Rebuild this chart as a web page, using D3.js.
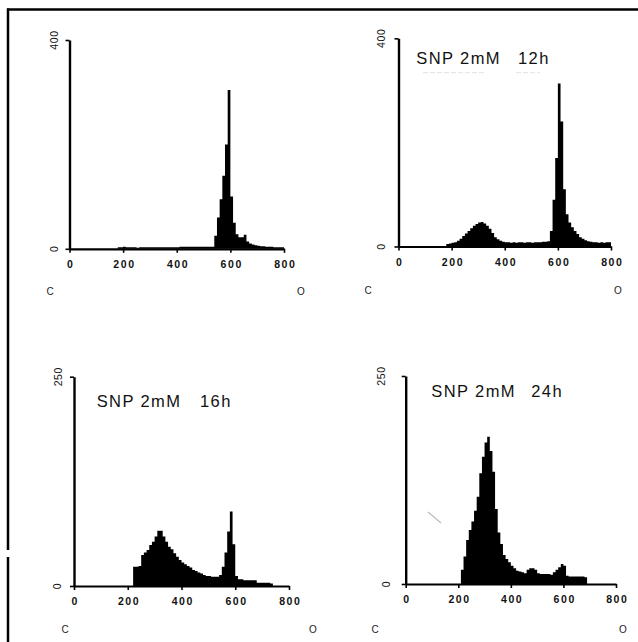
<!DOCTYPE html>
<html><head><meta charset="utf-8">
<script src="https://cdn.jsdelivr.net/npm/d3@7"></script>
<style>html,body{margin:0;padding:0;background:#fff}</style>
</head><body><svg id="c" width="638" height="642"></svg>
<script>
// ---- data ----
const binWidth = 10;            // DNA-content channel width of each histogram bin
const xTicks = [0, 200, 400, 600, 800];
const yMaxes = [400, 400, 250, 250];
const treatment = "SNP 2mM";
const times = ["", "12h", "16h", "24h"];
const cornerLeft = "C";
const cornerRight = "O";

const control = [0,0,0,0,0,0,0,0,0,0,0,0,0,0,0,0,0,0,
  3,3,4,3,3,3,3,2,3,3,3,3,3,3,3,3,3,3,3,3,3,3,3,
  4,4,4,4,4,4,4,4,4,4,4,4,4,
  25,60,95,140,200,304,100,50,28,22,22,27,14,10,8,7,
  6,5,5,4,4,4,3,3,3,3];
const snp12h = [0,0,0,0,0,0,0,0,0,0,0,0,0,0,0,0,0,0,
  5,6,7,8,11,15,20,25,30,35,40,43,46,47,44,40,34,26,18,14,11,9,
  8,8,7,8,7,8,8,7,8,8,7,8,8,8,9,9,10,
  30,90,170,313,240,110,62,46,37,30,24,18,15,12,10,
  9,8,8,7,8,7,8,8];
const snp16h = [0,0,0,0,0,0,0,0,0,0,0,0,0,0,0,0,0,0,0,0,0,0,
  23,23,24,37,40,43,49,53,59,66,66,59,53,47,44,39,35,31,28,26,24,22,19,18,16,15,13,12,12,11,11,11,13,23,40,65,89,50,12,
  8,8,7,7,7,7,7,
  4,4,4,4,4,3,
  0,0,0,0,0,0];
const snp24h = [0,0,0,0,0,0,0,0,0,0,0,0,0,0,0,0,0,0,0,0,0,
  17,33,53,65,75,88,105,133,153,170,177,160,135,90,62,48,35,30,26,22,19,16,15,14,13,17,19,19,17,13,12,12,12,12,11,14,17,20,24,22,10,9,9,9,9,9,9,8,
  0,0,0,0,0,0,0,0,0,0,0];

const series = [control, snp12h, snp16h, snp24h];

// ---- layout ----
const layout = [
  {ax: 69.5, yb: 248.8, yt: 40, xe: 284, yl0: 54.5, ylm: 54, cx: 50, cy: 295, ox: 301, tx: 0, ty: 0, tt: 0},
  {ax: 398.5, yb: 246.5, yt: 38.3, xe: 611, yl0: 381.5, ylm: 381, cx: 368, cy: 294, ox: 618, tx: 416.3, ty: 64.3, tt: 518},
  {ax: 74, yb: 586, yt: 376.7, xe: 289, yl0: 57.5, ylm: 58.3, cx: 65, cy: 633, ox: 313, tx: 96.7, ty: 407.3, tt: 200},
  {ax: 405.7, yb: 584, yt: 376, xe: 616, yl0: 386.3, ylm: 381, cx: 375, cy: 633, ox: 623, tx: 431.3, ty: 396.7, tt: 531.3}
];

const svg = d3.select("#c");
const FONT = "'Liberation Sans', Arial, Helvetica, sans-serif";

// outer frame (scan border)
svg.append("line").attr("x1", 7).attr("x2", 638).attr("y1", 9.5).attr("y2", 9.5)
  .style("stroke", "#000").style("stroke-width", 2.4);
svg.append("line").attr("x1", 8).attr("x2", 8).attr("y1", 8.5).attr("y2", 550)
  .style("stroke", "#000").style("stroke-width", 2.5);
svg.append("line").attr("x1", 8).attr("x2", 8).attr("y1", 557).attr("y2", 642)
  .style("stroke", "#000").style("stroke-width", 2.5);

series.forEach((counts, i) => {
  const L = layout[i];
  const x = d3.scaleLinear().domain([0, 800]).range([L.ax, L.xe]);
  const y = d3.scaleLinear().domain([0, yMaxes[i]]).range([L.yb, L.yt]);
  const g = svg.append("g");

  const bins = counts.map((c, k) => ({x0: k * binWidth, c}));
  bins.push({x0: counts.length * binWidth, c: 0});
  const area = d3.area().curve(d3.curveStepAfter)
    .x(d => x(d.x0)).y0(y(0)).y1(d => y(d.c));
  g.append("path").datum(bins).attr("d", area).style("fill", "#000").style("stroke", "none");

  // x axis
  const xa = g.append("g").attr("transform", `translate(0,${L.yb})`)
    .call(d3.axisBottom(x).tickValues(xTicks).tickSize(4).tickSizeOuter(0).tickPadding(8));
  xa.select(".domain").style("stroke", "#000").style("stroke-width", 2.2);
  xa.selectAll(".tick line").style("stroke", "#000").style("stroke-width", 1.6);
  xa.selectAll(".tick text").style("font-family", FONT).style("font-size", "10.5px")
    .style("font-weight", "bold").style("letter-spacing", "1.6px").style("fill", "#111")
    .attr("dx", "0.8px");

  // y axis
  const ya = g.append("g").attr("transform", `translate(${L.ax},0)`)
    .call(d3.axisLeft(y).tickValues([0, yMaxes[i]]).tickSize(4).tickSizeOuter(0));
  ya.select(".domain").style("stroke", "#000").style("stroke-width", 2.4);
  ya.selectAll(".tick line").style("stroke", "#000").style("stroke-width", 1.6);
  ya.selectAll(".tick text").remove();

  [[0, L.yl0], [yMaxes[i], L.ylm]].forEach(([v, lx]) => {
    svg.append("text").text(String(v))
      .attr("transform", `translate(${lx + 3.5},${y(v)}) rotate(-90)`)
      .attr("text-anchor", "middle").style("font-family", FONT).style("font-size", "10.5px")
      .style("letter-spacing", "0.6px").style("fill", "#111");
  });

  // corner letters
  svg.append("text").text(cornerLeft).attr("x", L.cx).attr("y", L.cy)
    .attr("text-anchor", "middle").style("font-family", FONT).style("font-size", "10px").style("fill", "#222");
  svg.append("text").text(cornerRight).attr("x", L.ox).attr("y", L.cy)
    .attr("text-anchor", "middle").style("font-family", FONT).style("font-size", "10px").style("fill", "#222");

  // title
  if (times[i]) {
    svg.append("text").text(treatment).attr("x", L.tx).attr("y", L.ty)
      .style("font-family", FONT).style("font-size", "16.5px").style("letter-spacing", "1.4px").style("fill", "#111");
    svg.append("text").text(times[i]).attr("x", L.tt).attr("y", L.ty)
      .style("font-family", FONT).style("font-size", "16.5px").style("letter-spacing", "1.4px").style("fill", "#111");
  }
});

// faint scan artefacts
svg.append("line").attr("x1", 423).attr("x2", 485).attr("y1", 72.7).attr("y2", 72.7)
  .style("stroke", "#e2e2e2").style("stroke-width", 1).style("stroke-dasharray", "5 2");
svg.append("line").attr("x1", 516).attr("x2", 540).attr("y1", 72.7).attr("y2", 72.7)
  .style("stroke", "#e2e2e2").style("stroke-width", 1).style("stroke-dasharray", "5 2");
svg.append("line").attr("x1", 428).attr("x2", 441).attr("y1", 512).attr("y2", 523)
  .style("stroke", "#bbb").style("stroke-width", 1.2);
</script></body></html>
